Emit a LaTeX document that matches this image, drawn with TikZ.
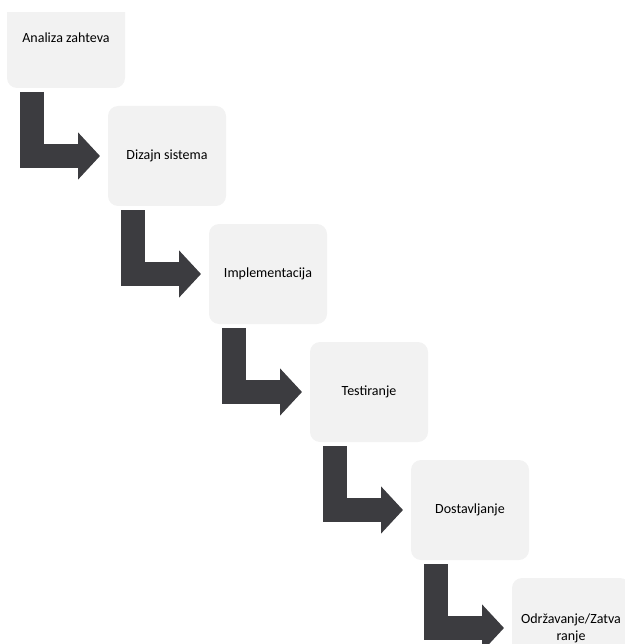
\documentclass[tikz,border=0pt]{standalone}
\usepackage{fontspec}
\setmainfont{Carlito}
\usepackage{tikz}
\usetikzlibrary{arrows.meta, positioning}

\definecolor{boxgray}{HTML}{F2F2F2}
\definecolor{arrowgray}{HTML}{3C3C40}

\begin{document}
\begin{tikzpicture}[on grid, node distance=118pt and 101pt,
    stage/.style={rectangle, rounded corners=10pt, fill=boxgray, minimum width=118pt,
                  minimum height=100pt, inner sep=0pt, outer sep=0pt, align=center,
                  font=\fontsize{14}{17}\selectfont},
    flow/.style={arrowgray, line width=24pt, line join=miter, shorten <=4pt, shorten >=8pt,
                 -{Triangle[length=22pt, width=46pt]}}]
        \useasboundingbox (0,0) rectangle (624pt,-644pt);
        % first box is cut off at the top
        \begin{scope}
          \clip (0,-13pt) rectangle (624pt,-644pt);
          \node[stage] (s1) at (66pt,-38pt) {Analiza zahteva};
        \end{scope}
        \node[stage] (s2) [below right=of s1] {Dizajn sistema};
        \node[stage] (s3) [below right=of s2] {Implementacija};
        \node[stage] (s4) [below right=of s3] {Testiranje};
        \node[stage] (s5) [below right=of s4] {Dostavljanje};
        \node[stage] (s6) [below right=of s5] {Održavanje/Zatva\\ranje};
        \foreach \from/\to in {s1/s2, s2/s3, s3/s4, s4/s5, s5/s6}
          \draw[flow] ([xshift=25pt]\from.south west) |- (\to.west);
\end{tikzpicture}
\end{document}
